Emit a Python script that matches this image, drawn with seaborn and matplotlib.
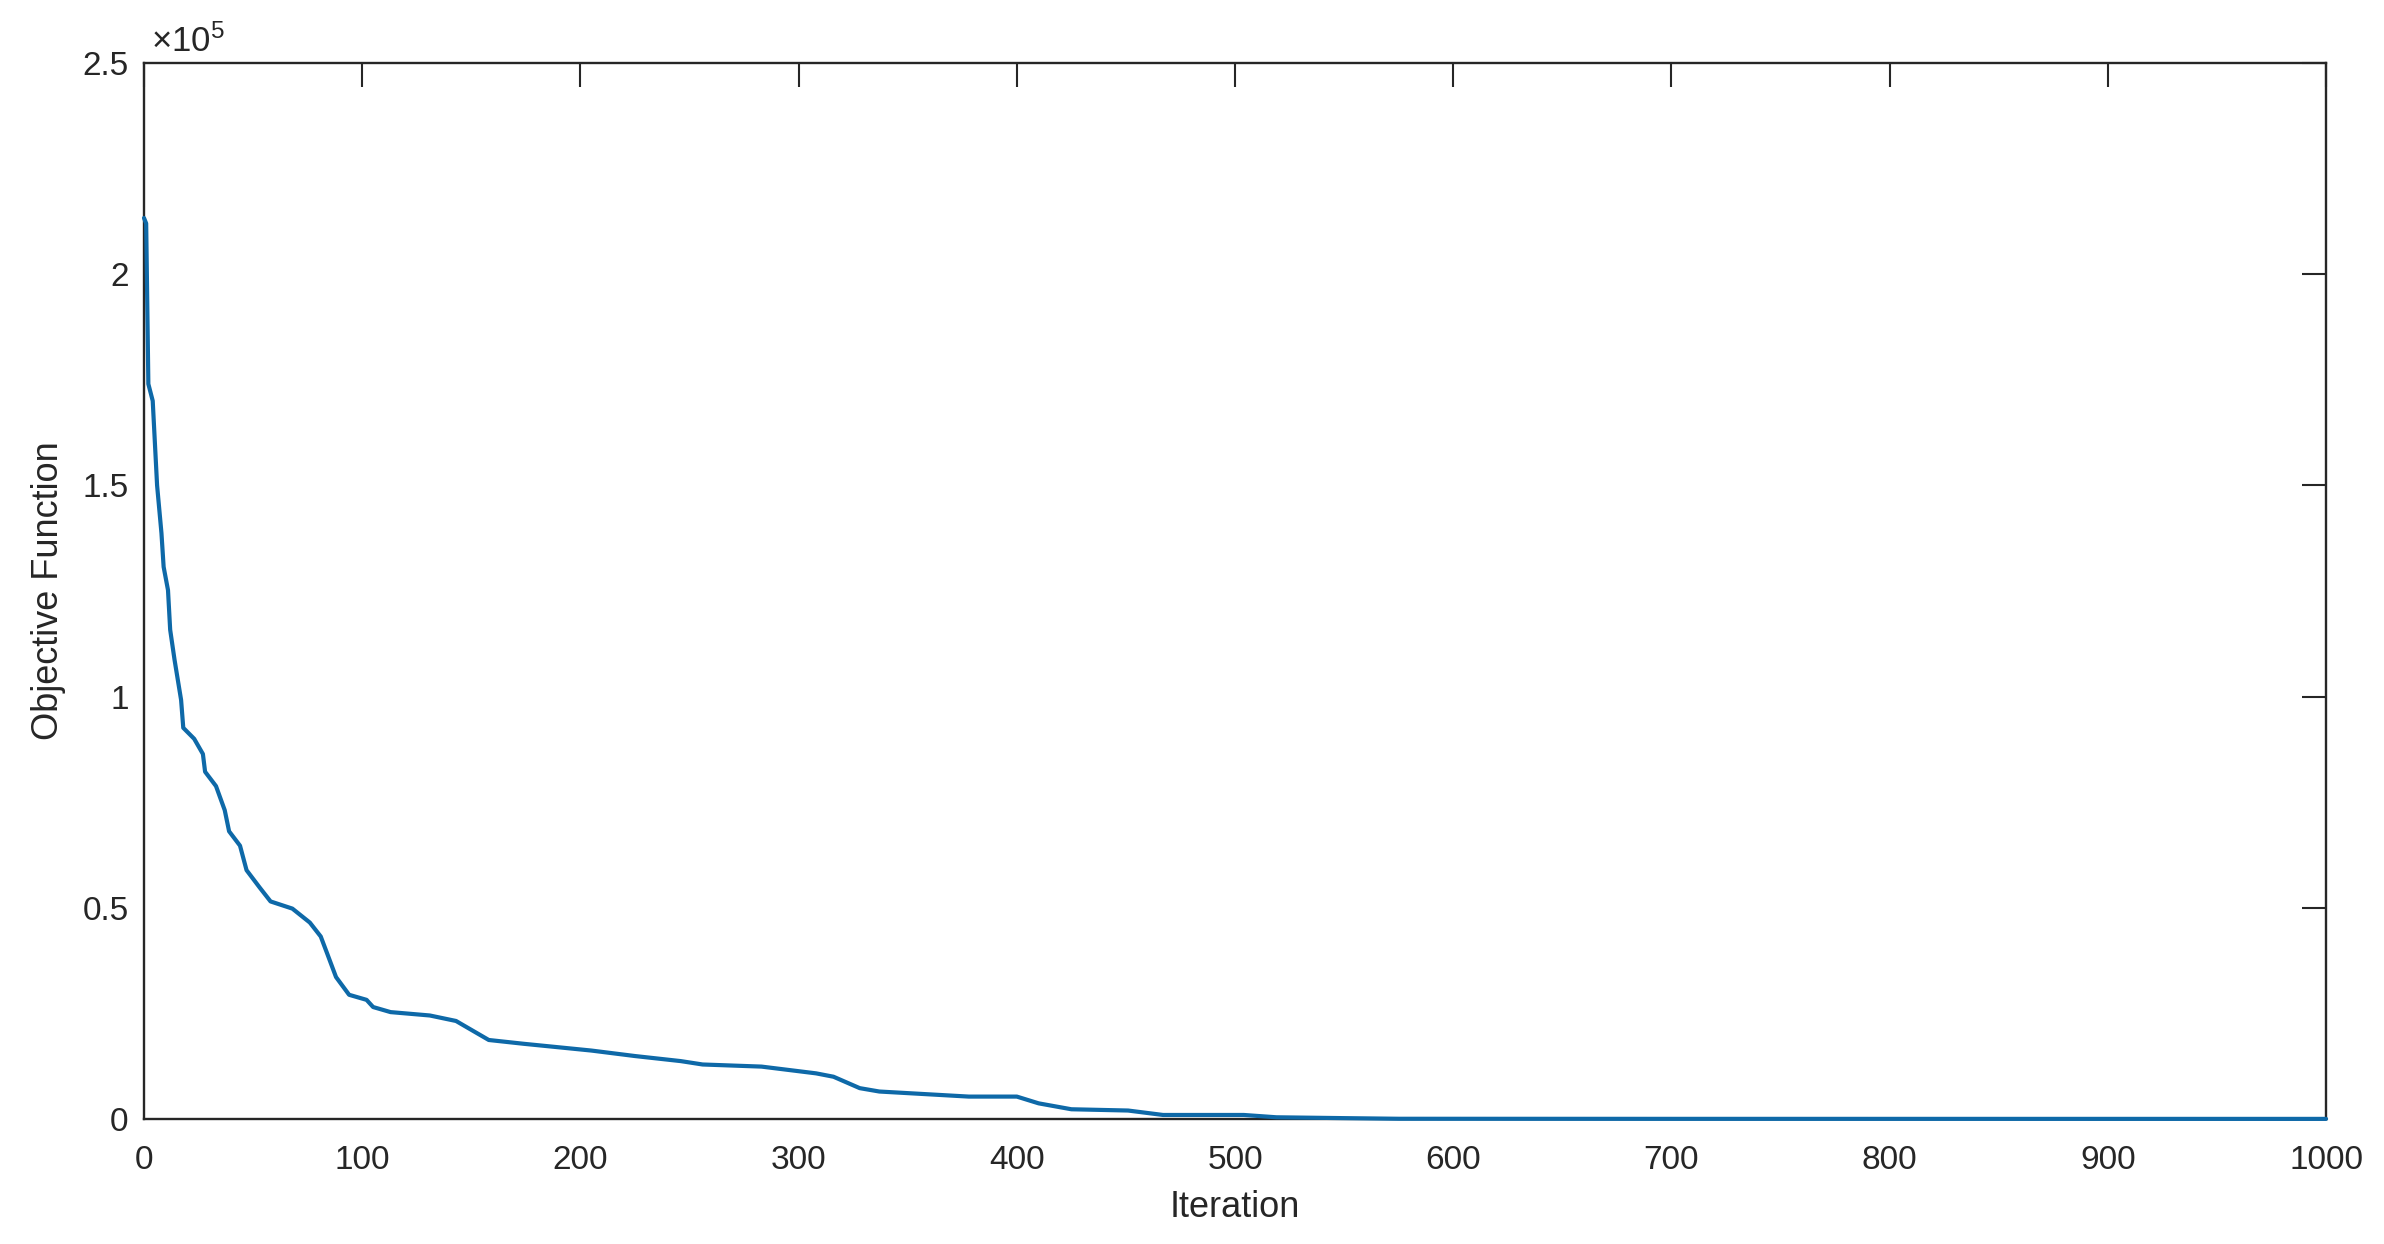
import matplotlib
matplotlib.use("Agg")
import matplotlib.pyplot as plt
import seaborn as sns
import numpy as np
import pandas as pd

# ---- data ----
iterations = [0, 1, 2, 4, 6, 8, 9, 11, 12, 14, 17, 18, 23, 27, 28, 33, 37, 39, 44, 47,
              53, 58, 68, 76, 81, 84, 88, 94, 102, 105, 113, 131, 143, 150, 158, 174,
              205, 225, 246, 256, 283, 308, 316, 328, 337, 378, 400, 410, 425, 451,
              467, 504, 519, 550, 575, 700, 1000]
objective = [2.133e5, 2.12e5, 1.74e5, 1.70e5, 1.50e5, 1.387e5, 1.307e5, 1.252e5, 1.158e5,
             1.087e5, 0.992e5, 0.926e5, 0.900e5, 0.864e5, 0.822e5, 0.788e5, 0.731e5,
             0.681e5, 0.647e5, 0.589e5, 0.548e5, 0.515e5, 0.498e5, 0.465e5, 0.432e5,
             0.391e5, 0.336e5, 0.294e5, 0.282e5, 0.265e5, 0.253e5, 0.245e5, 0.232e5,
             0.211e5, 0.187e5, 0.178e5, 0.162e5, 0.149e5, 0.137e5, 0.129e5, 0.124e5,
             0.108e5, 0.100e5, 0.073e5, 0.065e5, 0.053e5, 0.053e5, 0.037e5, 0.023e5,
             0.020e5, 0.0095e5, 0.0095e5, 0.004e5, 0.002e5, 0.0005e5, 0.0003e5, 0.0002e5]

xticks = [0, 100, 200, 300, 400, 500, 600, 700, 800, 900, 1000]
xtick_labels = ["0", "100", "200", "300", "400", "500", "600", "700", "800", "900", "1000"]
yticks = [0, 0.5e5, 1.0e5, 1.5e5, 2.0e5, 2.5e5]
ytick_labels = ["0", "0.5", "1", "1.5", "2", "2.5"]
x_label = "Iteration"
y_label = "Objective Function"
exponent_label = r"$\times10^{5}$"

df = pd.DataFrame({"Iteration": iterations, "Objective": objective})

sns.set_theme(style="white")
plt.rcParams["font.family"] = ["Liberation Sans", "DejaVu Sans"]
plt.rcParams["mathtext.fontset"] = "custom"
plt.rcParams["mathtext.rm"] = "Liberation Sans"
plt.rcParams["mathtext.it"] = "Liberation Sans"

axis_color = "#262626"
fig = plt.figure(figsize=(23.84, 12.44), dpi=100)
ax = fig.add_axes([0.0604, 0.1005, 0.9153, 0.8489])

sns.lineplot(data=df, x="Iteration", y="Objective", ax=ax, color="#0e69a8",
             linewidth=3.0, zorder=3, clip_on=False)

ax.set_xlim(0, 1000)
ax.set_ylim(0, 2.5e5)
ax.set_xticks(xticks)
ax.set_xticklabels(xtick_labels)
ax.set_yticks(yticks)
ax.set_yticklabels(ytick_labels)

for s in ax.spines.values():
    s.set_color(axis_color)
    s.set_linewidth(1.7)
    s.set_visible(True)

ax.tick_params(axis="both", which="major", direction="in", length=17, width=1.5,
               color=axis_color, labelcolor=axis_color, labelsize=24,
               top=True, right=True)
ax.tick_params(axis="x", pad=19)
ax.tick_params(axis="y", pad=11)

ax.set_xlabel(x_label, fontsize=26, color=axis_color, labelpad=10)
ax.set_ylabel(y_label, fontsize=26, color=axis_color, labelpad=12)

ax.text(0.003, 1.004, exponent_label, transform=ax.transAxes, ha="left", va="bottom",
        fontsize=25, color=axis_color)

ax.grid(False)
fig.savefig("out.png", dpi=100, facecolor="white")
